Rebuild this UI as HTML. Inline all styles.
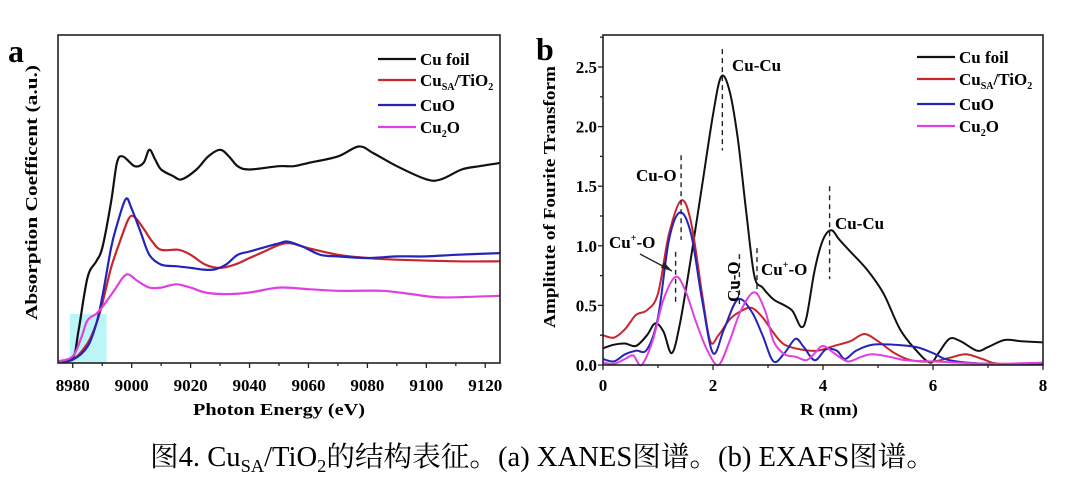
<!DOCTYPE html>
<html><head><meta charset="utf-8"><style>
html,body{margin:0;padding:0;background:#fff;}
svg{display:block;font-family:"Liberation Serif","Noto Serif CJK SC",serif;}
.t{font-weight:bold;font-size:17px;}
</style></head><body>
<svg id="svg" width="1080" height="488" viewBox="0 0 1080 488">
<rect width="1080" height="488" fill="#fff"/>
<g id="pa"></g>
<g id="pb"></g>
<text x="150" y="466" font-size="28" textLength="785" lengthAdjust="spacingAndGlyphs">图4. Cu<tspan font-size="18" dy="6">SA</tspan><tspan dy="-6">/TiO</tspan><tspan font-size="18" dy="6">2</tspan><tspan dy="-6">的结构表征。(a) XANES图谱。(b) EXAFS图谱。</tspan></text>
</svg>
<script>
// Panel a data
const aTicks=[8980,9000,9020,9040,9060,9080,9100,9120];
const aFoilX=[8975,8980,8982,8985,8988,8990,8993,8995,8997,9001,9004,9006,9008,9010,9014,9017,9022,9026,9030,9033,9036,9040,9050,9055,9060,9070,9077,9082,9090,9100,9105,9112,9118,9125];
const aFoilY=[0.5,1.5,10,26,31,35,49,61,63,60,61,65,62,59,57,56,59,63,65,63,60,59,60,60,61,63,66,64,60,56,56,59,60,61];
const aSAX=[8975,8980,8985,8988,8990,8993,8996,8999,9001,9004,9007,9010,9016,9020,9025,9030,9035,9040,9045,9050,9054,9060,9070,9080,9090,9110,9125];
const aSAY=[0.5,1,6,12,18,29,37,44,44.5,41,37,34.5,34.5,33,30,29,30,32,34,36,36.5,35,33,32,31.5,31,31];
const aCuOX=[8975,8980,8985,8988,8990,8993,8995,8998,9000,9003,9006,9010,9015,9020,9024,9028,9032,9036,9040,9050,9053,9058,9064,9070,9080,9090,9100,9110,9125];
const aCuOY=[0.5,1,5,12,20,35,42,50,47,40,33,30,29.5,29,28.5,28.5,30,33,34,36.5,37,35.5,33,32.5,32,32.5,32.5,33,33.5];
const aCu2OX=[8975,8980,8983,8985,8988,8990,8994,8997,8999,9002,9006,9010,9015,9020,9025,9032,9040,9050,9060,9070,9085,9095,9105,9125];
const aCu2OY=[0.5,2,8,13,15,17,22,26,27,25,23,23,24,23,21.5,21,21.5,23,22.5,22,22,21,20,20.5];
// Panel b data
const bTicks=[0,2,4,6,8];
const bYTicks=[0,0.5,1.0,1.5,2.0,2.5];
const bFoilX=[0,0.2,0.4,0.6,0.8,0.95,1.1,1.25,1.4,1.6,1.8,2.0,2.15,2.3,2.45,2.6,2.75,2.9,3.1,3.3,3.45,3.6,3.7,3.85,4.0,4.15,4.3,4.5,4.8,5.1,5.4,5.7,5.95,6.1,6.3,6.5,6.8,7.0,7.3,7.6,8.0];
const bFoilY=[0.14,0.17,0.18,0.16,0.25,0.35,0.28,0.1,0.35,0.9,1.5,2.1,2.42,2.3,1.9,1.3,0.75,0.65,0.55,0.5,0.45,0.32,0.4,0.8,1.05,1.13,1.05,0.95,0.8,0.6,0.3,0.12,0.02,0.1,0.22,0.2,0.12,0.15,0.21,0.2,0.19];
const bSAX=[0,0.2,0.4,0.6,0.8,1.0,1.2,1.42,1.6,1.8,1.95,2.1,2.3,2.5,2.7,2.9,3.1,3.3,3.6,3.9,4.2,4.5,4.75,5.0,5.3,5.6,6.0,6.3,6.6,6.9,7.2,8];
const bSAY=[0.25,0.23,0.3,0.42,0.46,0.6,1.1,1.38,1.2,0.6,0.2,0.25,0.38,0.45,0.48,0.4,0.27,0.17,0.13,0.12,0.16,0.2,0.26,0.2,0.1,0.04,0.03,0.06,0.09,0.05,0.01,0.01];
const bCuOX=[0,0.2,0.4,0.6,0.8,1.0,1.2,1.4,1.6,1.8,2.0,2.2,2.45,2.7,2.9,3.1,3.3,3.5,3.65,3.85,4.05,4.25,4.4,4.6,4.9,5.3,5.7,6.0,6.3,7.0,8];
const bCuOY=[0.05,0.03,0.09,0.12,0.13,0.4,1.05,1.28,1.1,0.55,0.1,0.3,0.55,0.45,0.25,0.03,0.1,0.22,0.15,0.04,0.13,0.12,0.05,0.12,0.17,0.17,0.15,0.1,0.04,0.01,0.01];
const bCu2OX=[0,0.2,0.4,0.55,0.7,0.9,1.1,1.32,1.5,1.7,1.9,2.1,2.3,2.5,2.75,2.95,3.1,3.3,3.5,3.7,3.85,4.0,4.2,4.45,4.7,4.9,5.2,5.5,6.0,7,8];
const bCu2OY=[0.02,0.01,0.05,0.08,0.0,0.2,0.55,0.74,0.62,0.35,0.12,0.0,0.2,0.45,0.61,0.45,0.2,0.09,0.07,0.04,0.1,0.16,0.1,0.03,0.07,0.09,0.07,0.04,0.03,0.01,0.02];

const NS="http://www.w3.org/2000/svg";
function mk(parent,tag,attrs){const e=document.createElementNS(NS,tag);for(const k in attrs)e.setAttribute(k,attrs[k]);parent.appendChild(e);return e;}
function smooth(pts){let d=`M${pts[0][0].toFixed(1)},${pts[0][1].toFixed(1)}`;
 for(let i=0;i<pts.length-1;i++){const p0=pts[i-1]||pts[i],p1=pts[i],p2=pts[i+1],p3=pts[i+2]||p2;
  const c1=[p1[0]+(p2[0]-p0[0])/6,p1[1]+(p2[1]-p0[1])/6],c2=[p2[0]-(p3[0]-p1[0])/6,p2[1]-(p3[1]-p1[1])/6];
  d+=`C${c1[0].toFixed(1)},${c1[1].toFixed(1)} ${c2[0].toFixed(1)},${c2[1].toFixed(1)} ${p2[0].toFixed(1)},${p2[1].toFixed(1)}`;}
 return d;}
const COL={foil:"#111",sa:"#c8262c",cuo:"#2424b8",cu2o:"#e040e0"};

// ---- Panel A ----
const A=document.getElementById('pa');
const aL=58,aR=500,aT=35,aB=363;
const ax=v=>aL+(v-8975)/150*(aR-aL), ay=v=>aB-(v/100)*(aB-aT);
let cy=mk(A,'rect',{x:ax(8979),y:314,width:ax(8991.5)-ax(8979),height:aB-314,fill:"rgba(60,225,235,0.35)"});


const aSeries=[[aFoilX,aFoilY,COL.foil,'series-cu-foil'],[aSAX,aSAY,COL.sa,'series-cusa-tio2'],[aCuOX,aCuOY,COL.cuo,'series-cuo'],[aCu2OX,aCu2OY,COL.cu2o,'series-cu2o']];
aSeries.forEach(s=>{const p=mk(A,'path',{d:smooth(s[0].map((x,i)=>[ax(x),ay(s[1][i])])),fill:"none",stroke:s[2],"stroke-width":2.2});
 
 });
let fr=mk(A,'rect',{x:aL,y:aT,width:aR-aL,height:aB-aT,fill:"none",stroke:"#222","stroke-width":1.6});


for(let v=8980;v<=9120;v+=10){mk(A,'line',{x1:ax(v),x2:ax(v),y1:aB,y2:aB+(v%20==0?5:3),stroke:"#222","stroke-width":1.3});}
aTicks.forEach(v=>{const t=mk(A,'text',{x:ax(v),y:391,"text-anchor":"middle",class:"t","font-size":"17"});t.textContent=v;
 
 });
let xt=mk(A,'text',{x:193,y:415,class:"t","font-size":"20",textLength:"172",lengthAdjust:"spacingAndGlyphs"});xt.textContent="Photon Energy (eV)";


let yt=mk(A,'text',{x:0,y:0,transform:"translate(37,320) rotate(-90)",class:"t","font-size":"19",textLength:"255",lengthAdjust:"spacingAndGlyphs"});yt.textContent="Absorption Coefficent (a.u.)";


let la=mk(A,'text',{x:8,y:62,"font-size":"32","font-weight":"bold"});la.textContent="a";



function legend(G,x0,ys,names){const cols=[COL.foil,COL.sa,COL.cuo,COL.cu2o];
 ys.forEach((y,i)=>{const l=mk(G,'line',{x1:x0,x2:x0+38,y1:y,y2:y,stroke:cols[i],"stroke-width":2.2});
  
  
  const t=mk(G,'text',{x:x0+42,y:y+6,class:"t","font-size":"17"});t.innerHTML=names[i];
  
  });}
const legNames=["Cu foil",'Cu<tspan font-size="10" dy="4">SA</tspan><tspan dy="-4">/TiO</tspan><tspan font-size="10" dy="4">2</tspan>',"CuO",'Cu<tspan font-size="10" dy="4">2</tspan><tspan dy="-4">O</tspan>'];
legend(A,378,[59,80,105,127],legNames);

// ---- Panel B ----
const B=document.getElementById('pb');
const bL=603,bR=1043,bT=35,bB=365;
const bx=v=>bL+v/8*(bR-bL), by=v=>bB-v/2.5*(bB-67);
const bSeries=[[bFoilX,bFoilY,COL.foil,'series-cu-foil'],[bSAX,bSAY,COL.sa,'series-cusa-tio2'],[bCuOX,bCuOY,COL.cuo,'series-cuo'],[bCu2OX,bCu2OY,COL.cu2o,'series-cu2o']];
bSeries.forEach(s=>{const p=mk(B,'path',{d:smooth(s[0].map((x,i)=>[bx(x),by(s[1][i])])),fill:"none",stroke:s[2],"stroke-width":2});
 
 });
let fb=mk(B,'rect',{x:bL,y:bT,width:bR-bL,height:bB-bT,fill:"none",stroke:"#222","stroke-width":1.6});


for(let v=0;v<=8;v+=1){mk(B,'line',{x1:bx(v),x2:bx(v),y1:bB,y2:bB+(v%2==0?5:3),stroke:"#222","stroke-width":1.3});}
for(let v=0;v<=2.75;v+=0.25){mk(B,'line',{x1:bL,x2:bL-(Math.abs(v*2-Math.round(v*2))<1e-6?5:3),y1:by(v),y2:by(v),stroke:"#222","stroke-width":1.3});}
bTicks.forEach(v=>{const t=mk(B,'text',{x:bx(v),y:391,"text-anchor":"middle",class:"t"});t.textContent=v;
 
 });
bYTicks.forEach(v=>{const t=mk(B,'text',{x:bL-6,y:by(v)+6,"text-anchor":"end",class:"t"});t.textContent=v.toFixed(1);
 
 });
let xb=mk(B,'text',{x:800,y:415,class:"t","font-size":"20",textLength:"58",lengthAdjust:"spacingAndGlyphs"});xb.textContent="R (nm)";


let ybt=mk(B,'text',{x:0,y:0,transform:"translate(555,328) rotate(-90)",class:"t","font-size":"18",textLength:"262",lengthAdjust:"spacingAndGlyphs"});ybt.textContent="Amplitute of Fourite Transform";


let lb=mk(B,'text',{x:536,y:60,"font-size":"32","font-weight":"bold"});lb.textContent="b";


legend(B,917,[57,79,104,126],legNames);

// annotations
const dashes=[[2.17,2.65,1.8],[1.42,1.76,1.05],[4.12,1.5,0.72],[1.32,0.95,0.5],[2.48,0.93,0.5],[2.8,0.98,0.6]];
dashes.forEach(d=>{const l=mk(B,'line',{x1:bx(d[0]),x2:bx(d[0]),y1:by(d[1]),y2:by(d[2]),stroke:"#222","stroke-width":1.4,"stroke-dasharray":"5,4"});
 
 });
const ann=[[732,71,'Cu-Cu'],[636,181,'Cu-O'],[835,229,'Cu-Cu'],[609,248,'Cu<tspan font-size="10" dy="-7">+</tspan><tspan dy="7">-O</tspan>'],[761,275,'Cu<tspan font-size="10" dy="-7">+</tspan><tspan dy="7">-O</tspan>']];
ann.forEach(a=>{const t=mk(B,'text',{x:a[0],y:a[1],class:"t","font-size":"17"});t.innerHTML=a[2];
 
 });
let rt=mk(B,'text',{x:0,y:0,transform:"translate(739,302) rotate(-90)",class:"t","font-size":"17"});rt.textContent="Cu-O";


let ar=mk(B,'line',{x1:640,y1:254,x2:672,y2:271,stroke:"#222","stroke-width":1.3});


mk(B,'path',{d:"M672,271 L664,262 L661,268 Z",fill:"#222"});
</script>
</body></html>
